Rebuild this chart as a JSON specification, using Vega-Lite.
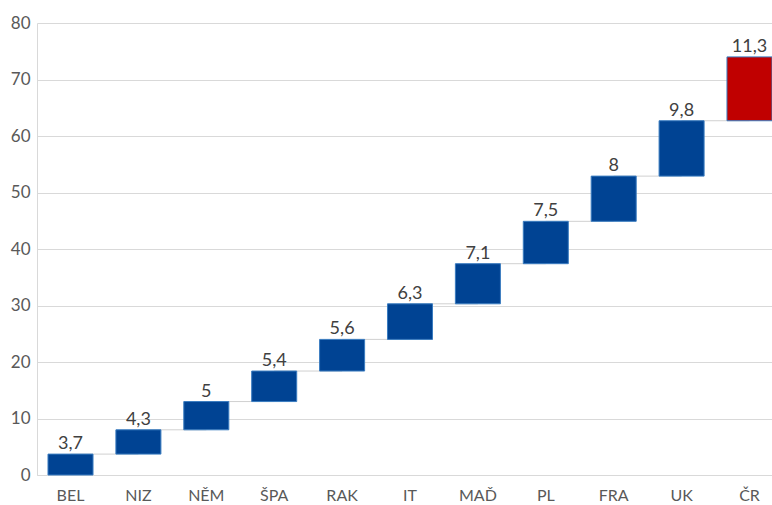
{
  "$schema": "https://vega.github.io/schema/vega-lite/v6.json",
  "width": 735,
  "height": 452,
  "autosize": "none",
  "padding": {"left": 37, "top": 23, "right": 0, "bottom": 30},
  "config": {
    "view": {"stroke": null},
    "font": "Lato",
    "axis": {"labelColor": "#595959", "labelFontSize": 17, "labelFont": "Lato", "gridColor": "#d9d9d9", "domainColor": "#d9d9d9", "ticks": false, "title": null}
  },
  "datasets": {
    "bars": [
      {"cat": "BEL", "start": 0, "end": 3.7, "label": "3,7", "kind": "a"},
      {"cat": "NIZ", "start": 3.7, "end": 8.0, "label": "4,3", "kind": "a"},
      {"cat": "NĚM", "start": 8.0, "end": 13.0, "label": "5", "kind": "a"},
      {"cat": "ŠPA", "start": 13.0, "end": 18.4, "label": "5,4", "kind": "a"},
      {"cat": "RAK", "start": 18.4, "end": 24.0, "label": "5,6", "kind": "a"},
      {"cat": "IT", "start": 24.0, "end": 30.3, "label": "6,3", "kind": "a"},
      {"cat": "MAĎ", "start": 30.3, "end": 37.4, "label": "7,1", "kind": "a"},
      {"cat": "PL", "start": 37.4, "end": 44.9, "label": "7,5", "kind": "a"},
      {"cat": "FRA", "start": 44.9, "end": 52.9, "label": "8", "kind": "a"},
      {"cat": "UK", "start": 52.9, "end": 62.7, "label": "9,8", "kind": "a"},
      {"cat": "ČR", "start": 62.7, "end": 74.0, "label": "11,3", "kind": "b"}
    ],
    "links": [
      {"cat": "BEL", "next": "NIZ", "y": 3.7},
      {"cat": "NIZ", "next": "NĚM", "y": 8.0},
      {"cat": "NĚM", "next": "ŠPA", "y": 13.0},
      {"cat": "ŠPA", "next": "RAK", "y": 18.4},
      {"cat": "RAK", "next": "IT", "y": 24.0},
      {"cat": "IT", "next": "MAĎ", "y": 30.3},
      {"cat": "MAĎ", "next": "PL", "y": 37.4},
      {"cat": "PL", "next": "FRA", "y": 44.9},
      {"cat": "FRA", "next": "UK", "y": 52.9},
      {"cat": "UK", "next": "ČR", "y": 62.7}
    ]
  },
  "layer": [
    {
      "data": {"name": "links"},
      "mark": {"type": "rule", "color": "#d0d0d0", "strokeWidth": 1},
      "encoding": {
        "x": {"field": "cat", "type": "nominal", "sort": null, "bandPosition": 0.5,
              "axis": {"labelAngle": 0, "labelPadding": 12, "labelFontSize": 16, "domain": true, "grid": false, "bandPosition": 0.5},
              "scale": {"domain": ["BEL","NIZ","NĚM","ŠPA","RAK","IT","MAĎ","PL","FRA","UK","ČR"], "paddingInner": 0.337, "paddingOuter": 0.081, "align": 1}},
        "x2": {"field": "next", "bandPosition": 0.5},
        "y": {"field": "y", "type": "quantitative",
              "scale": {"domain": [0, 80]},
              "axis": {"values": [0,10,20,30,40,50,60,70,80], "labelPadding": 7, "domain": true, "grid": true}}
      }
    },
    {
      "data": {"name": "bars"},
      "mark": {"type": "bar", "stroke": "#3a7cc0", "strokeWidth": 1},
      "encoding": {
        "x": {"field": "cat", "type": "nominal", "sort": null},
        "y": {"field": "start", "type": "quantitative"},
        "y2": {"field": "end"},
        "color": {"field": "kind", "type": "nominal", "scale": {"domain": ["a","b"], "range": ["#004393", "#c00000"]}, "legend": null}
      }
    },
    {
      "data": {"name": "bars"},
      "mark": {"type": "text", "baseline": "alphabetic", "dy": -5, "fontSize": 18, "color": "#404040", "font": "Lato"},
      "encoding": {
        "x": {"field": "cat", "type": "nominal", "sort": null},
        "y": {"field": "end", "type": "quantitative"},
        "text": {"field": "label"}
      }
    }
  ]
}
